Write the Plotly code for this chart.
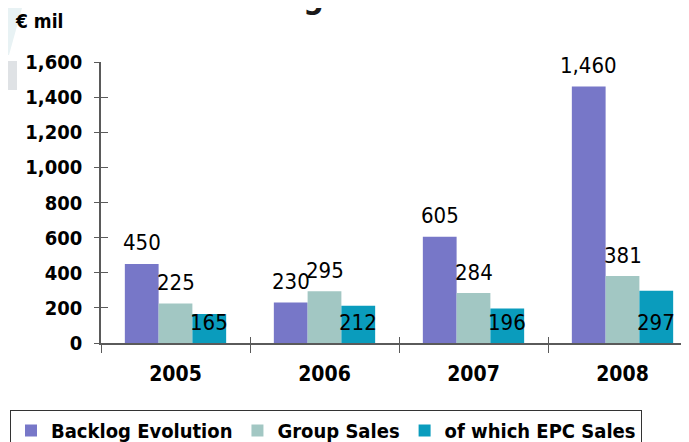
import plotly.graph_objects as go

categories = ["2005", "2006", "2007", "2008"]
backlog = [450, 230, 605, 1460]
group_sales = [225, 295, 284, 381]
epc_sales = [165, 212, 196, 297]
y_ticks = [0, 200, 400, 600, 800, 1000, 1200, 1400, 1600]

series = [
    ("Backlog Evolution", backlog, "#7777c8"),
    ("Group Sales", group_sales, "#a2c7c3"),
    ("of which EPC Sales", epc_sales, "#0a9cbd"),
]

FONT = "DejaVu Sans Condensed, DejaVu Sans, sans-serif"
OFF = 8  # page body margin
W, H = 689 - OFF, 442 - OFF
# plot area in page pixels: x 101..689, y 62..343
ML, MT = 101 - OFF, 62 - OFF
MR = 0
MB = H - (343 - OFF)
PW, PH = W - ML - MR, H - MT - MB
def px(x):
    return (x - OFF - ML) / PW
def py(y):
    return (343 - y) / PH

bargap = 0.32
bw = (1 - bargap) / 3

fig = go.Figure()
for name, vals, col in series:
    fig.add_trace(go.Bar(x=categories, y=vals, name=name, marker=dict(color=col, line=dict(width=0)),
                         hoverinfo="skip"))
# helper trace for crossing tick marks on overlay axes
fig.add_trace(go.Scatter(x=categories, y=backlog, xaxis="x2", yaxis="y2", mode="markers",
                         marker=dict(opacity=0), showlegend=False, hoverinfo="skip"))

annotations = []
for k, (name, vals, col) in enumerate(series):
    for i, v in enumerate(vals):
        xpos = i + (k - 1) * bw
        if k < 2:
            annotations.append(dict(x=xpos, y=v, xref="x", yref="y", text=f"{v:,}", showarrow=False,
                                    yanchor="middle", yshift=21,
                                    font=dict(family=FONT, size=22, color="#000")))
        else:
            annotations.append(dict(x=xpos, y=0, xref="x", yref="y", text=f"{v:,}", showarrow=False,
                                    yanchor="middle", yshift=21,
                                    font=dict(family=FONT, size=22, color="#000")))

annotations.append(dict(x=px(13), y=py(21), xref="paper", yref="paper", text="€ mil",
                        showarrow=False, xanchor="left", yanchor="middle",
                        font=dict(family=FONT, size=19, color="#000", weight="bold")))
annotations.append(dict(x=px(331), y=py(18), xref="paper", yref="paper", text="Backlog vs Sales",
                        showarrow=False, xanchor="center", yanchor="bottom",
                        font=dict(family=FONT, size=32, color="#1a1a1a", weight="bold")))

shapes = [
    dict(type="rect", xref="paper", yref="paper", x0=px(OFF), x1=px(17), y0=py(90), y1=py(61),
         fillcolor="#dfe2e5", line=dict(width=0), layer="below"),
    dict(type="path", xref="paper", yref="paper",
         path=f"M {px(OFF)},{py(OFF)} L {px(22)},{py(OFF)} L {px(9)},{py(55)} L {px(OFF)},{py(55)} Z",
         fillcolor="#e8f2f4", line=dict(width=0), layer="below"),
]

axis_col = "#5a5a5a"
fig.update_layout(
    width=W, height=H,
    margin=dict(l=ML, r=MR, t=MT, b=MB, autoexpand=False),
    paper_bgcolor="white", plot_bgcolor="white",
    barmode="group", bargap=bargap, bargroupgap=0,
    showlegend=True,
    legend=dict(orientation="h", x=px(10), y=py(410), xanchor="left", yanchor="top",
                bordercolor="#333", borderwidth=1, bgcolor="white",
                font=dict(family=FONT, size=20, color="#000", weight="bold"), itemclick=False,
                tracegroupgap=0),
    xaxis=dict(type="category", range=[-0.5, -0.5 + PW / 149], showline=True, linecolor=axis_col,
               linewidth=1.5, ticks="outside", tickson="boundaries", ticklen=8, tickcolor=axis_col,
               showgrid=False, zeroline=False, ticklabelstandoff=11,
               tickfont=dict(family=FONT, size=21, color="#000", weight="bold")),
    yaxis=dict(range=[0, 1600], tickvals=y_ticks, tickformat=",d", showline=True, linecolor=axis_col,
               linewidth=1.5, ticks="outside", ticklen=5, tickcolor=axis_col, showgrid=False,
               zeroline=False, ticklabelstandoff=8,
               tickfont=dict(family=FONT, size=20, color="#000", weight="bold")),
    xaxis2=dict(type="category", overlaying="x", matches="x", anchor="y2", showline=False,
                ticks="inside", tickson="boundaries", ticklen=6, tickcolor=axis_col,
                showticklabels=False, showgrid=False, zeroline=False),
    yaxis2=dict(overlaying="y", matches="y", anchor="x2", side="left", tickvals=y_ticks, showline=False,
                ticks="inside", ticklen=7, tickcolor=axis_col, showticklabels=False,
                showgrid=False, zeroline=False),
    annotations=annotations,
    shapes=shapes,
)

fig.write_html("out.html")
